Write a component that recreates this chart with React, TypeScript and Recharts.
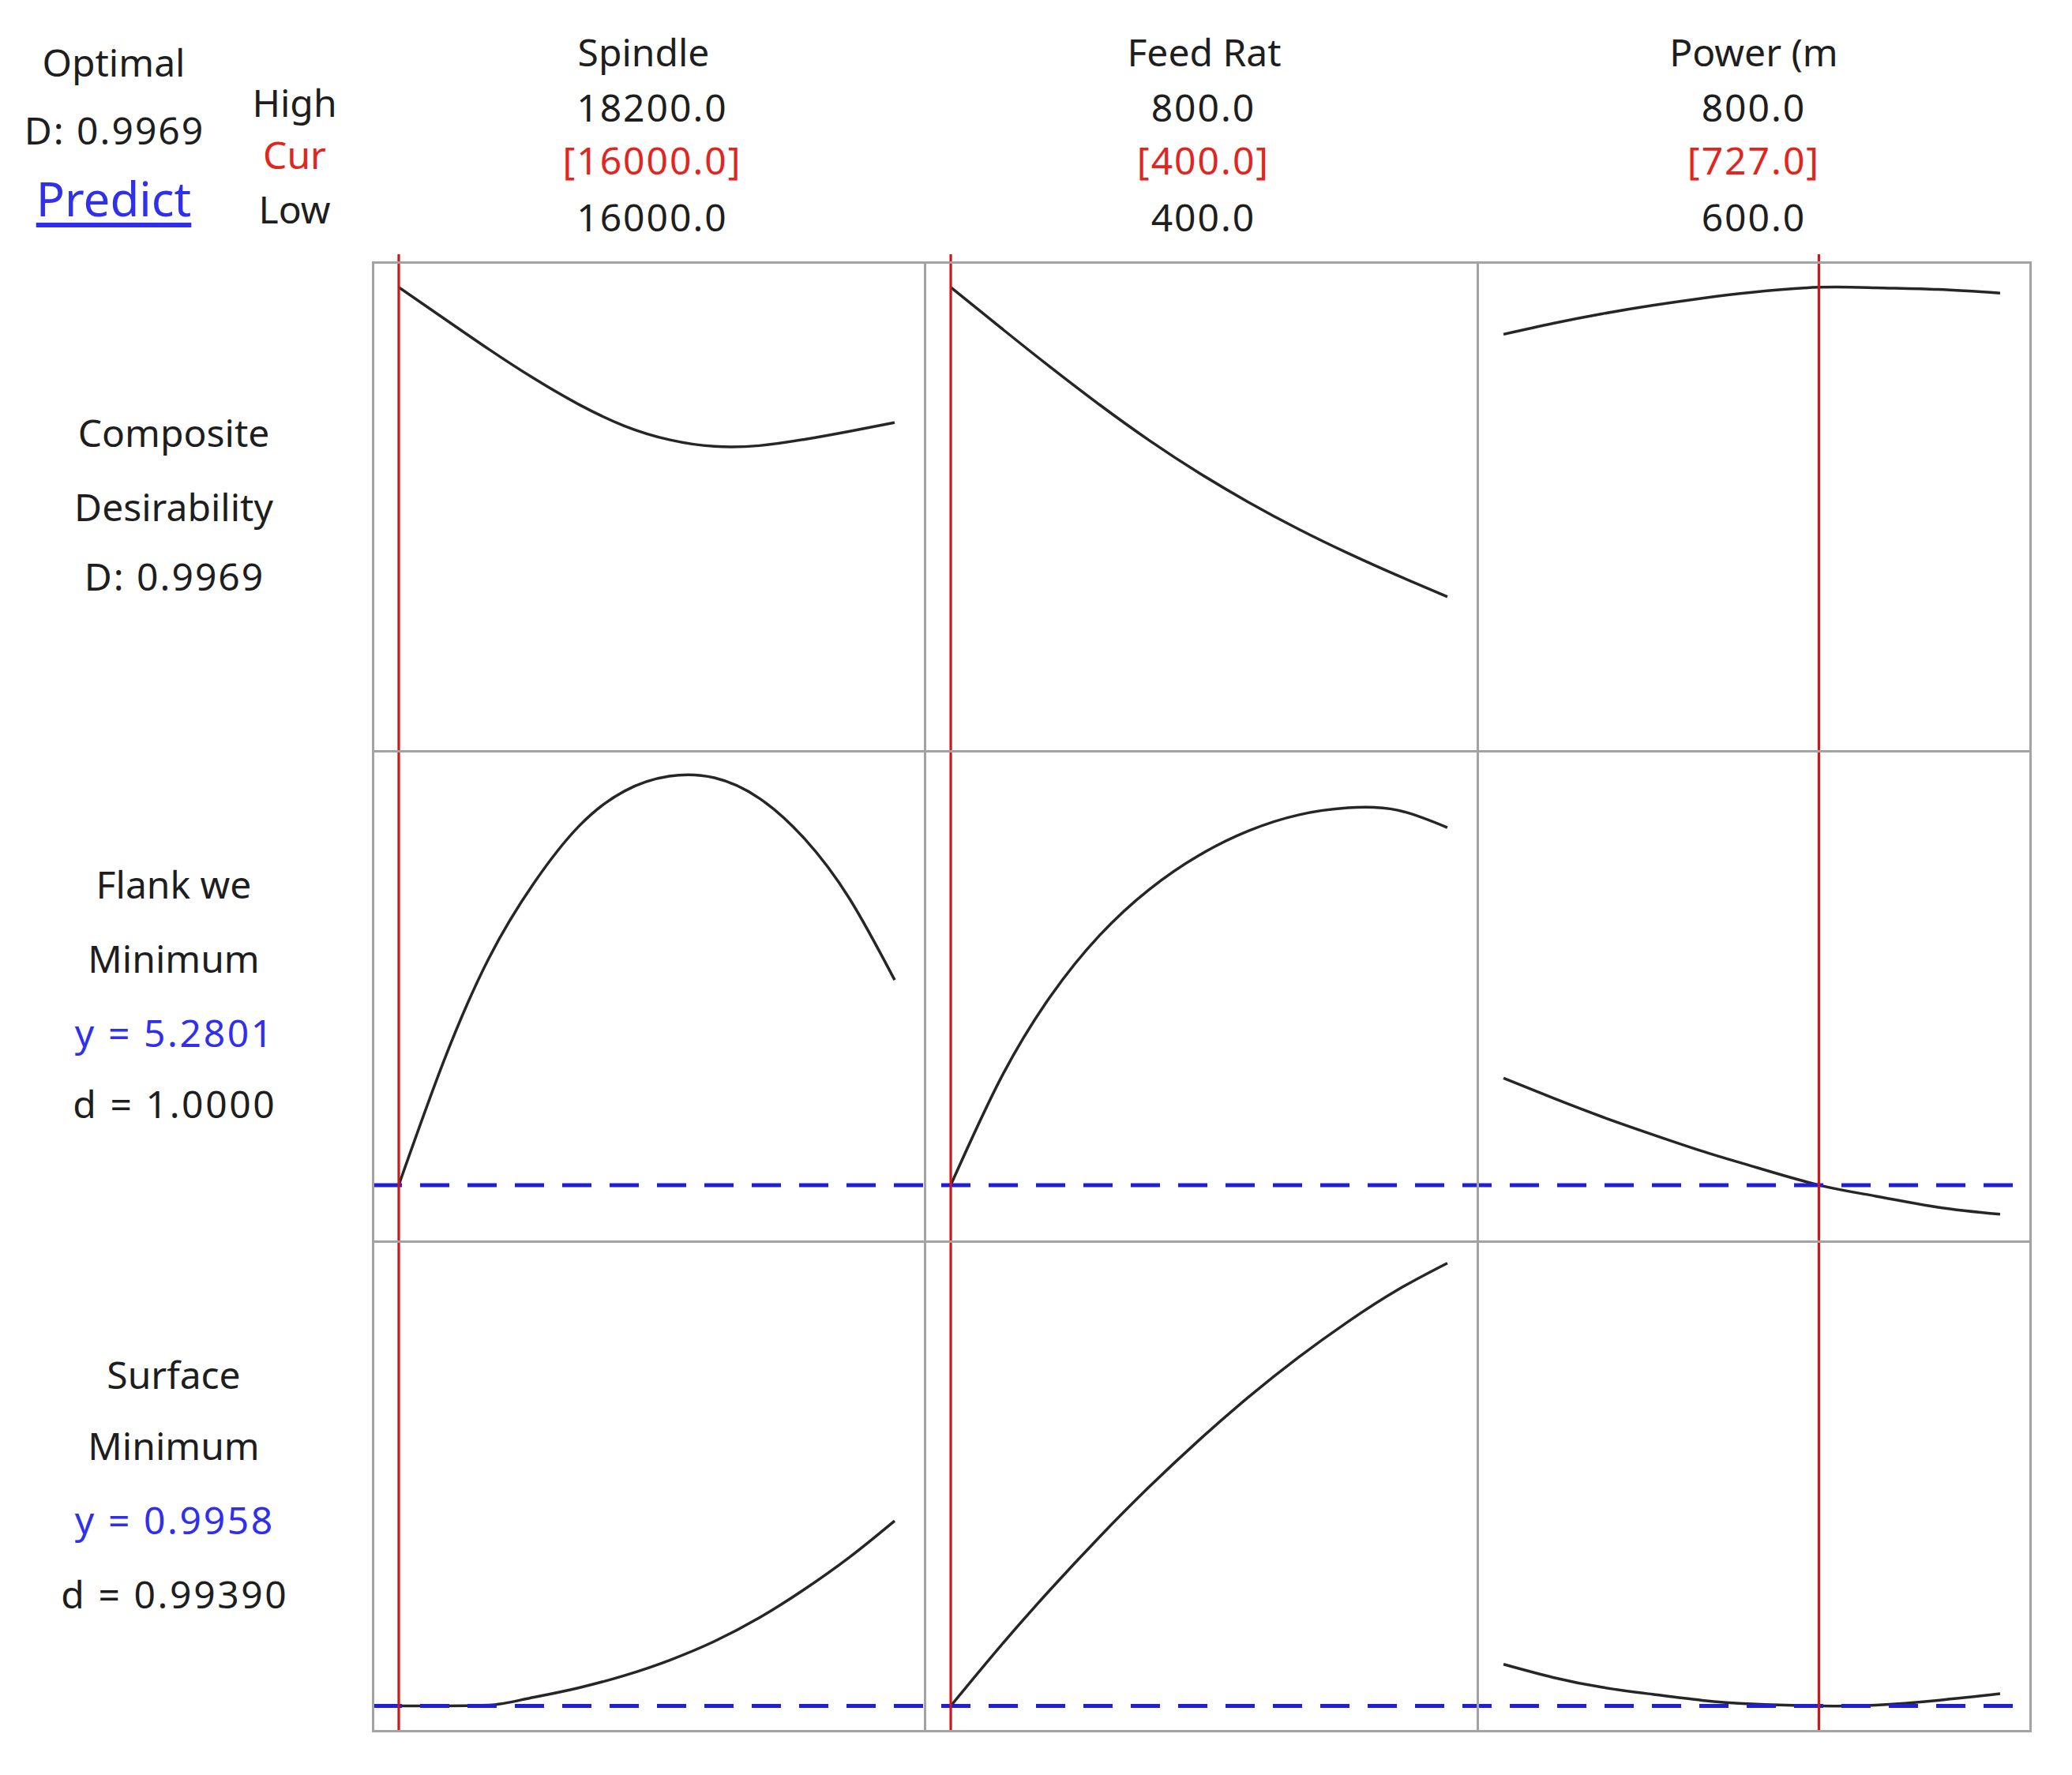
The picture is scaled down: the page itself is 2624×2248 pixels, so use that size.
import React from 'react';
import { LineChart, Line, XAxis, YAxis, ReferenceLine } from 'recharts';

// ---------- DATA ----------
const factorNames = ['Spindle', 'Feed Rat', 'Power (m'];
const factorHighLabels = ['18200.0', '800.0', '800.0'];
const factorCurLabels = ['[16000.0]', '[400.0]', '[727.0]'];
const factorLowLabels = ['16000.0', '400.0', '600.0'];
const factorRanges: [number, number][] = [[16000, 18200], [400, 800], [600, 800]];
const currentSettings = [16000, 400, 727];

const spindleGrid = [16000, 16200, 16400, 16600, 16800, 17000, 17200, 17400, 17600, 17800, 18000, 18200];
const feedGrid = [400, 440, 480, 520, 560, 600, 640, 680, 720, 760, 800];
const powerGrid = [600, 620, 640, 660, 680, 700, 727, 750, 775, 800];

const compositeVsSpindle = [0.9969, 0.977, 0.9572, 0.9385, 0.9218, 0.9082, 0.8993, 0.895, 0.8955, 0.8995, 0.9047, 0.9103];
const compositeVsFeed = [0.9969, 0.9712, 0.9459, 0.9216, 0.8988, 0.878, 0.8592, 0.8421, 0.8266, 0.8123, 0.7987];
const compositeVsPower = [0.9668, 0.9738, 0.98, 0.9853, 0.9899, 0.9937, 0.9969, 0.9966, 0.9955, 0.9932];

const flankVsSpindle = [5.2801, 6.85, 8.15, 9.1, 9.82, 10.26, 10.45, 10.43, 10.17, 9.66, 8.9, 7.873];
const flankVsFeed = [5.2801, 6.62, 7.66, 8.44, 9.02, 9.45, 9.76, 9.96, 10.05, 10.02, 9.8];
const flankVsPower = [6.634, 6.38, 6.14, 5.92, 5.71, 5.52, 5.2801, 5.14, 5.0, 4.911];

const surfaceVsSpindle = [0.9958, 0.9958, 0.999, 1.029, 1.065, 1.111, 1.169, 1.241, 1.331, 1.439, 1.561, 1.699];
const surfaceVsFeed = [0.9958, 1.2228, 1.4368, 1.6388, 1.8288, 2.0058, 2.1698, 2.3198, 2.4558, 2.5768, 2.678];
const surfaceVsPower = [1.154, 1.104, 1.066, 1.04, 1.017, 1.003, 0.9958, 0.999, 1.017, 1.042];

const responseLabels = [
  ['Composite', 'Desirability', 'D: 0.9969'],
  ['Flank we', 'Minimum', 'y = 5.2801', 'd = 1.0000'],
  ['Surface', 'Minimum', 'y = 0.9958', 'd = 0.99390'],
];
const currentResponses = [0.9969, 5.2801, 0.9958];
const rowDomains: [number, number][] = [[0.7, 1.013], [4.57, 10.77], [0.9013, 2.7613]];
const optimalLabels = ['Optimal', 'D: 0.9969', 'Predict'];
const levelLabels = ['High', 'Cur', 'Low'];

const grids = [spindleGrid, feedGrid, powerGrid];
const series = [
  [compositeVsSpindle, compositeVsFeed, compositeVsPower],
  [flankVsSpindle, flankVsFeed, flankVsPower],
  [surfaceVsSpindle, surfaceVsFeed, surfaceVsPower],
];

// ---------- LAYOUT ----------
const W = 2624;
const H = 2248;
const colEdges = [472, 1171, 1871, 2571];
const rowEdges = [332, 951, 1572, 2192];
const FONT = '"Noto Sans", "Open Sans", sans-serif';
const GRAY = '#a3a3a3';
const RED_LINE = '#c81a1a';
const BLUE_LINE = '#2020d2';
const RED_TEXT = '#e0261e';
const BLUE_TEXT = '#3030ec';
const TEXT = '#1e1e1e';

type PanelProps = {
  row: number;
  col: number;
};

function Panel({ row, col }: PanelProps) {
  const left = colEdges[col];
  const width = colEdges[col + 1] - colEdges[col];
  let top = rowEdges[row];
  let height = rowEdges[row + 1] - rowEdges[row];
  const [lo, hi] = rowDomains[row];
  let yDomain: [number, number] = [lo, hi];
  if (row === 0) {
    const ext = 10;
    yDomain = [lo, hi + (ext / height) * (hi - lo)];
    top -= ext;
    height += ext;
  }
  const [fl, fh] = factorRanges[col];
  const span = fh - fl;
  const xDomain: [number, number] = [fl - (33 / 628) * span, fh + (38 / 628) * span];
  const data = grids[col].map((x, i) => ({ x, y: series[row][col][i] }));
  const dashOffset = (left - colEdges[0]) % 60;
  const curveType = row === 2 && col === 0 ? 'monotone' : 'natural';
  return (
    <div style={{ position: 'absolute', left, top, width, height }}>
      <LineChart width={width} height={height} data={data} margin={{ top: 0, right: 0, bottom: 0, left: 0 }}>
        <XAxis type="number" dataKey="x" domain={xDomain} hide allowDataOverflow />
        <YAxis type="number" dataKey="y" domain={yDomain} hide allowDataOverflow />
        <Line
          type={curveType}
          dataKey="y"
          stroke="#262626"
          strokeWidth={3.5}
          dot={false}
          isAnimationActive={false}
        />
        {row > 0 && (
          <ReferenceLine
            y={currentResponses[row]}
            stroke={BLUE_LINE}
            strokeWidth={5}
            strokeDasharray="37 23"
            strokeDashoffset={dashOffset}
          />
        )}
        <ReferenceLine x={currentSettings[col]} stroke={RED_LINE} strokeWidth={3.2} />
      </LineChart>
    </div>
  );
}

function T({ x, y, children, fill = TEXT, size = 48, underline = false, spacing = 0 }: any) {
  return (
    <text
      x={x + spacing / 2}
      y={y}
      textAnchor="middle"
      dominantBaseline="central"
      fontFamily={FONT}
      fontSize={size}
      fill={fill}
      letterSpacing={spacing}
      textDecoration={underline ? 'underline' : undefined}
      style={{ whiteSpace: 'pre' }}
    >
      {children}
    </text>
  );
}

export default function App() {
  const headerX = [825, 1523, 2220];
  const titleX = [815, 1525, 2221];
  const headerY = [65, 135, 202, 274];
  const leftRowY = [
    [547, 641, 729],
    [1119, 1213, 1307, 1397],
    [1740, 1830, 1924, 2018],
  ];
  return (
    <div style={{ position: 'absolute', left: 0, top: 0, width: W, height: H, background: '#ffffff', overflow: 'hidden' }}>
      <svg width={W} height={H} style={{ position: 'absolute', left: 0, top: 0 }}>
        <T x={144} y={78}>{optimalLabels[0]}</T>
        <T x={144} y={164} spacing={2}>{optimalLabels[1]}</T>
        <T x={144} y={251} size={60} fill={BLUE_TEXT} underline>{optimalLabels[2]}</T>
        <T x={373} y={129}>{levelLabels[0]}</T>
        <T x={373} y={195} fill={RED_TEXT}>{levelLabels[1]}</T>
        <T x={373} y={264}>{levelLabels[2]}</T>
        {factorNames.map((n, i) => (
          <g key={n}>
            <T x={titleX[i]} y={headerY[0]}>{n}</T>
            <T x={headerX[i]} y={headerY[1]} spacing={2}>{factorHighLabels[i]}</T>
            <T x={headerX[i]} y={headerY[2]} fill={RED_TEXT} spacing={2}>{factorCurLabels[i]}</T>
            <T x={headerX[i]} y={headerY[3]} spacing={2}>{factorLowLabels[i]}</T>
          </g>
        ))}
        {responseLabels.map((lines, r) =>
          lines.map((s, k) => {
            const numeric = /\d/.test(s);
            return (
              <T
                key={`${r}-${k}`}
                x={220}
                y={leftRowY[r][k]}
                fill={r > 0 && k === 2 ? BLUE_TEXT : TEXT}
                spacing={numeric ? (r > 0 ? 2.6 : 2) : 0}
              >
                {s}
              </T>
            );
          })
        )}
      </svg>
      {[0, 1, 2].map((r) => [0, 1, 2].map((c) => <Panel key={`${r}${c}`} row={r} col={c} />))}
      {rowEdges.map((y, i) => (
        <div
          key={`h${i}`}
          style={{ position: 'absolute', left: colEdges[0] - 1, top: y - 1, width: colEdges[3] - colEdges[0] + 3, height: 3, background: GRAY }}
        />
      ))}
      {colEdges.map((x, i) => (
        <div
          key={`v${i}`}
          style={{ position: 'absolute', left: x - 1, top: rowEdges[0] - 1, width: 3, height: rowEdges[3] - rowEdges[0] + 3, background: GRAY }}
        />
      ))}
    </div>
  );
}
